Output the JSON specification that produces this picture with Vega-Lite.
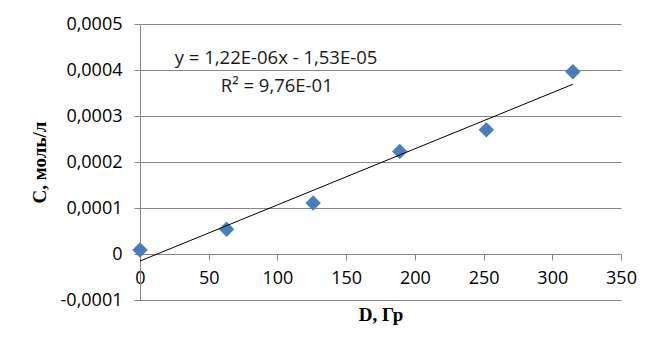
{
  "$schema": "https://vega.github.io/schema/vega-lite/v6.json",
  "width": 481,
  "height": 276,
  "autosize": {"type": "none"},
  "padding": {"left": 140, "top": 24, "right": 40, "bottom": 55},
  "background": "white",
  "config": {"view": {"stroke": null}, "font": "Open Sans"},
  "layer": [
    {
      "data": {"values": [
        {"D": 0, "C": 0.0000087},
        {"D": 63, "C": 0.000054},
        {"D": 126, "C": 0.000111},
        {"D": 189, "C": 0.000223},
        {"D": 252, "C": 0.00027},
        {"D": 315, "C": 0.000396}
      ]},
      "mark": {"type": "point", "shape": "diamond", "filled": true, "size": 240, "color": "#4a7ebb", "opacity": 1},
      "encoding": {
        "x": {
          "field": "D", "type": "quantitative",
          "scale": {"domain": [0, 350], "nice": false, "zero": false},
          "axis": {
            "title": "D, Гр", "titleFont": "Liberation Serif", "titleFontWeight": "bold", "titleFontSize": 19, "titleColor": "#000",
            "offset": -46, "values": [0, 50, 100, 150, 200, 250, 300, 350], "grid": false,
            "domainColor": "#868686", "tickColor": "#868686", "tickSize": 6,
            "labelFont": "Open Sans", "labelFontSize": 18, "labelColor": "#000", "labelPadding": 9, "titlePadding": 18,
            "labelFlush": false
          }
        },
        "y": {
          "field": "C", "type": "quantitative",
          "scale": {"domain": [-0.0001, 0.0005], "nice": false, "zero": false},
          "axis": {
            "title": "C, моль/л", "titleFont": "Liberation Serif", "titleFontWeight": "bold", "titleFontSize": 19, "titleColor": "#000",
            "values": [-0.0001, 0, 0.0001, 0.0002, 0.0003, 0.0004, 0.0005],
            "labelExpr": "datum.value == 0 ? '0' : replace(replace(format(datum.value, '.4f'), '.', ','), '−', '-')",
            "grid": true, "gridColor": "#868686", "domainColor": "#868686", "tickColor": "#868686", "tickSize": 6,
            "labelFont": "Open Sans", "labelFontSize": 18, "labelColor": "#000", "labelPadding": 12, "titlePadding": 11,
            "labelFlush": false
          }
        }
      }
    },
    {
      "data": {"values": [
        {"D": 0, "C": -0.0000153},
        {"D": 315, "C": 0.0003690}
      ]},
      "mark": {"type": "line", "color": "#000", "strokeWidth": 1},
      "encoding": {
        "x": {"field": "D", "type": "quantitative"},
        "y": {"field": "C", "type": "quantitative"}
      }
    },
    {
      "data": {"values": [
        {"D": 99, "C": 0.000427, "label": "y = 1,22E-06x - 1,53E-05"},
        {"D": 99.5, "C": 0.000366, "label": "R² = 9,76E-01"}
      ]},
      "mark": {"type": "text", "font": "Open Sans", "fontSize": 18.5, "color": "#1a1a1a", "baseline": "middle", "align": "center"},
      "encoding": {
        "x": {"field": "D", "type": "quantitative"},
        "y": {"field": "C", "type": "quantitative"},
        "text": {"field": "label"}
      }
    }
  ]
}
